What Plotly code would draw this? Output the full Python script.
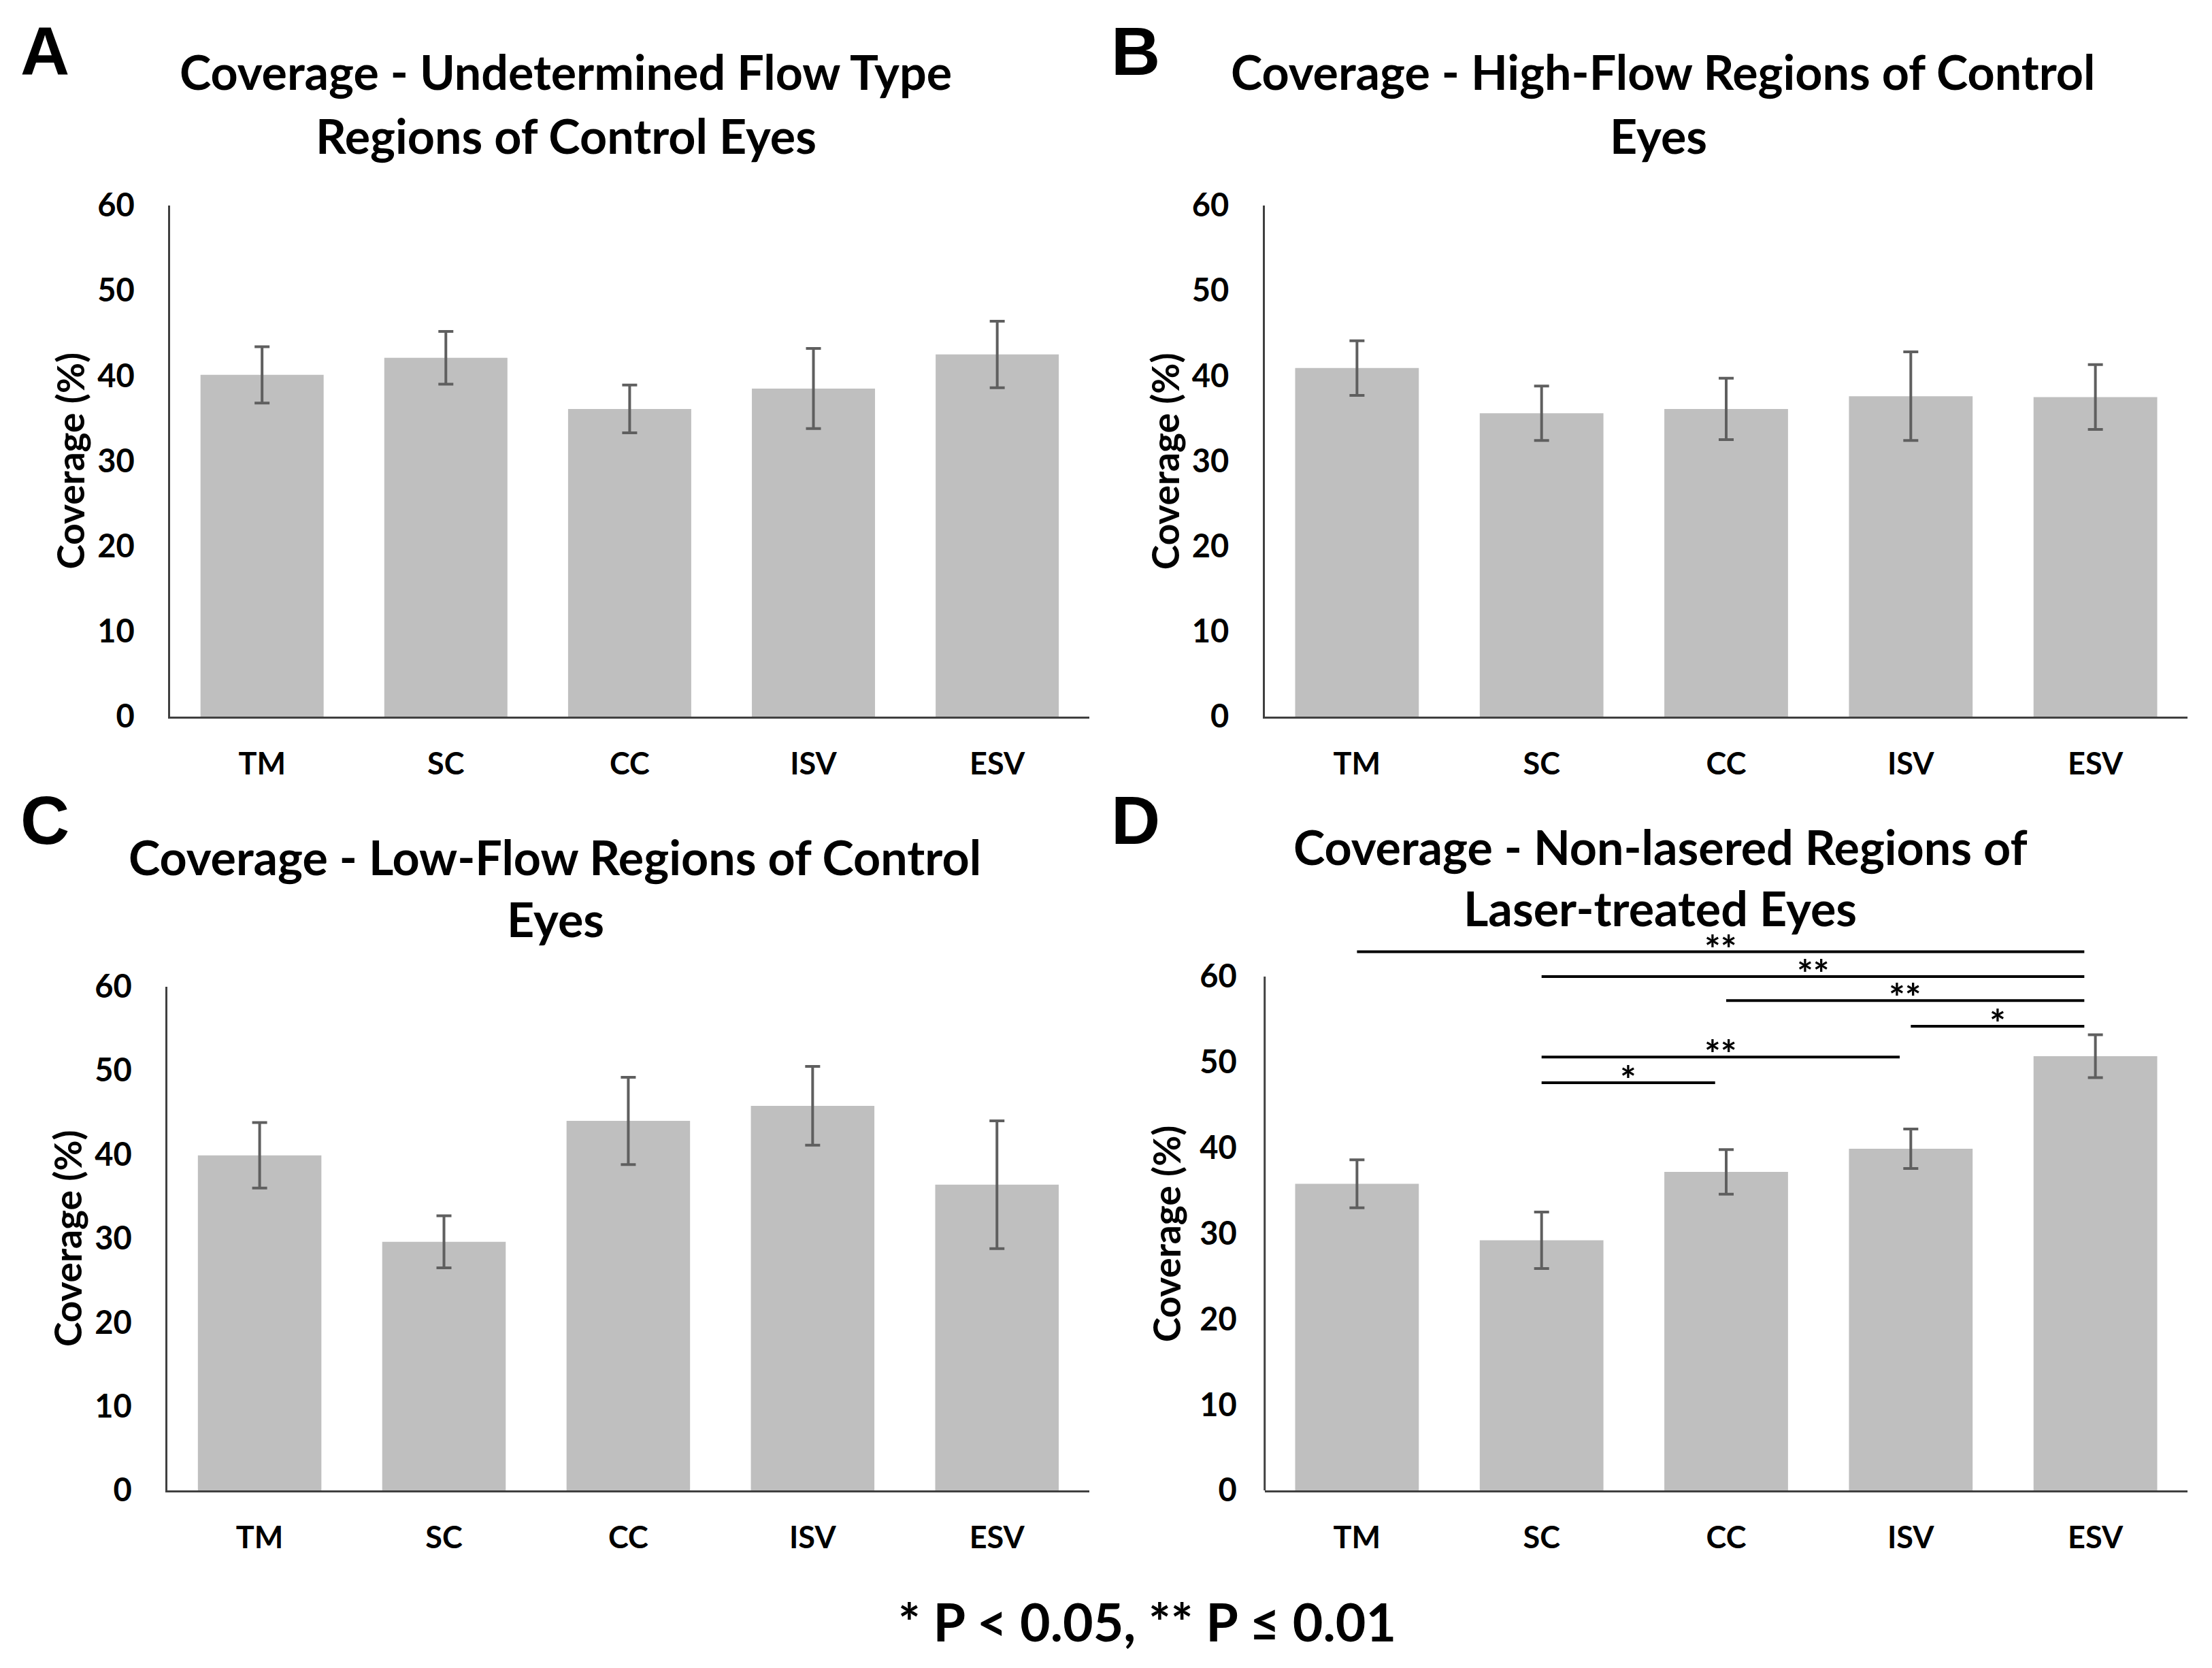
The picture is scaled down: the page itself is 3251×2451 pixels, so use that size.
import plotly.graph_objects as go

W, H = 3251, 2451

categories = ["TM", "SC", "CC", "ISV", "ESV"]

# Panel A - Undetermined flow type regions of control eyes
a_values = [40.1, 42.1, 36.1, 38.5, 42.5]
a_errors = [3.3, 3.1, 2.8, 4.7, 3.9]
# Panel B - High-flow regions of control eyes
b_values = [40.9, 35.6, 36.1, 37.6, 37.5]
b_errors = [3.2, 3.2, 3.6, 5.2, 3.8]
# Panel C - Low-flow regions of control eyes
c_values = [39.9, 29.6, 44.0, 45.8, 36.4]
c_errors = [3.9, 3.1, 5.2, 4.7, 7.6]
# Panel D - Non-lasered regions of laser-treated eyes
d_values = [35.8, 29.2, 37.2, 39.9, 50.7]
d_errors = [2.8, 3.3, 2.6, 2.3, 2.5]

# Significance brackets in panel D: (from, to, level, label)
sig_from = ["TM", "SC", "CC", "ISV", "SC", "SC"]
sig_to = ["ESV", "ESV", "ESV", "ESV", "ISV", "CC"]
sig_level = [62.9, 60.0, 57.2, 54.2, 50.6, 47.6]
sig_label = ["**", "**", "**", "*", "**", "*"]

y_ticks = [0, 10, 20, 30, 40, 50, 60]

panel_letters = ["A", "B", "C", "D"]
title_lines = [
    ["Coverage - Undetermined Flow Type", "Regions of Control Eyes"],
    ["Coverage - High-Flow Regions of Control", "Eyes"],
    ["Coverage - Low-Flow Regions of Control", "Eyes"],
    ["Coverage - Non-lasered Regions of", "Laser-treated Eyes"],
]
y_title = "Coverage (%)"
footnote = "* P < 0.05, ** P ≤ 0.01"

FONT = "Lato, 'Open Sans', sans-serif"
BAR_COLOR = "#bfbfbf"
ERR_COLOR = "#5f5f5f"
AXIS_COLOR = "#404040"

# layout geometry (pixels, with empirical correction for rendering offset)
def px_x(v):
    v = v / 1.0077 - 4
    return v / W

def px_y(v):
    v = v / 0.978 - 40
    return 1 - v / H

domains = {
    1: dict(x=[px_x(248), px_x(1609)], y=[px_y(1055), px_y(303)], yr=[0, 60]),
    2: dict(x=[px_x(1869), px_x(3236)], y=[px_y(1055), px_y(303)], yr=[0, 60]),
    3: dict(x=[px_x(244), px_x(1609)], y=[px_y(2193), px_y(1452)], yr=[0, 60]),
    4: dict(x=[px_x(1869), px_x(3236)], y=[px_y(2193), px_y(1387)], yr=[0, 64]),
}

fig = go.Figure()

series = [(a_values, a_errors), (b_values, b_errors), (c_values, c_errors), (d_values, d_errors)]
for i, (vals, errs) in enumerate(series, start=1):
    sfx = "" if i == 1 else str(i)
    fig.add_trace(go.Bar(
        x=categories, y=vals,
        xaxis="x" + sfx, yaxis="y" + sfx,
        marker=dict(color=BAR_COLOR, line=dict(width=0)),
        error_y=dict(type="data", array=errs, visible=True,
                     color=ERR_COLOR, thickness=4, width=11),
        showlegend=False,
        hoverinfo="skip",
    ))

layout = dict(
    width=W, height=H,
    margin=dict(l=0, r=0, t=0, b=0),
    paper_bgcolor="white", plot_bgcolor="white",
    bargap=0.33,
    font=dict(family=FONT, color="black"),
    showlegend=False,
)

for i, d in domains.items():
    sfx = "" if i == 1 else str(i)
    layout["xaxis" + sfx] = dict(
        domain=d["x"], anchor="y" + sfx,
        type="category", categoryorder="array", categoryarray=categories,
        range=[-0.5, 4.5],
        showline=True, linecolor=AXIS_COLOR, linewidth=3,
        showgrid=False, zeroline=False, ticks="",
        tickfont=dict(family=FONT, size=45, color="black", weight="bold"),
        ticklabelstandoff=28,
        fixedrange=True,
    )
    layout["yaxis" + sfx] = dict(
        domain=d["y"], anchor="x" + sfx,
        range=d["yr"], tickvals=y_ticks,
        showline=(i != 4), linecolor=AXIS_COLOR, linewidth=3,
        showgrid=False, zeroline=False, ticks="",
        tickfont=dict(family=FONT, size=47, color="black", weight="bold"),
        ticklabelstandoff=40,
        fixedrange=True,
    )

fig.update_layout(**layout)

shapes = []
# left axis line for panel D (only up to 60)
shapes.append(dict(type="line", xref="x4 domain", yref="y4",
                   x0=0, x1=0, y0=0, y1=60,
                   line=dict(color=AXIS_COLOR, width=3)))

# significance brackets
idx = {c: k for k, c in enumerate(categories)}
annotations = []
for f, t, lvl, lab in zip(sig_from, sig_to, sig_level, sig_label):
    x0 = idx[f]
    x1 = idx[t] - 0.06
    shapes.append(dict(type="line", xref="x4", yref="y4",
                       x0=x0, x1=x1, y0=lvl, y1=lvl,
                       line=dict(color="black", width=4)))
    annotations.append(dict(xref="x4", yref="y4", x=(x0 + x1) / 2, y=lvl,
                            text=lab, showarrow=False, xanchor="center",
                            yanchor="bottom", yshift=-30,
                            font=dict(family=FONT, size=56, color="black", weight="bold")))

# panel letters
letter_pos = [(62, 76), (1678, 76), (62, 1207), (1678, 1207)]
for lab, (lx, ly) in zip(panel_letters, letter_pos):
    annotations.append(dict(xref="paper", yref="paper", x=px_x(lx), y=px_y(ly),
                            text=lab, showarrow=False, xanchor="center", yanchor="middle",
                            font=dict(family="'Liberation Sans', Arial, sans-serif", size=100,
                                      color="black", weight="bold")))

# titles
title_pos = [
    [(834, 106), (834, 200)],
    [(2459, 106), (2452, 200)],
    [(818, 1261), (819, 1352)],
    [(2455, 1246), (2455, 1336)],
]
for lines, poss in zip(title_lines, title_pos):
    for txt, (tx, ty) in zip(lines, poss):
        annotations.append(dict(xref="paper", yref="paper", x=px_x(tx), y=px_y(ty),
                                text=txt, showarrow=False, xanchor="center", yanchor="middle",
                                font=dict(family=FONT, size=70, color="black", weight="bold")))

# y-axis titles
ytitle_x = [100, 1721, 96, 1723]
for i, yx in enumerate(ytitle_x, start=1):
    sfx = "" if i == 1 else str(i)
    annotations.append(dict(xref="paper", yref="y" + sfx, x=px_x(yx), y=30,
                            text=y_title, showarrow=False, textangle=-90,
                            xanchor="center", yanchor="middle",
                            font=dict(family=FONT, size=55, color="black", weight="bold")))

# footnote
annotations.append(dict(xref="paper", yref="paper", x=px_x(1695), y=px_y(2385),
                        text=footnote, showarrow=False, xanchor="center", yanchor="middle",
                        font=dict(family=FONT, size=77, color="black", weight="bold")))

fig.update_layout(shapes=shapes, annotations=annotations)

fig.write_html("out.html")
